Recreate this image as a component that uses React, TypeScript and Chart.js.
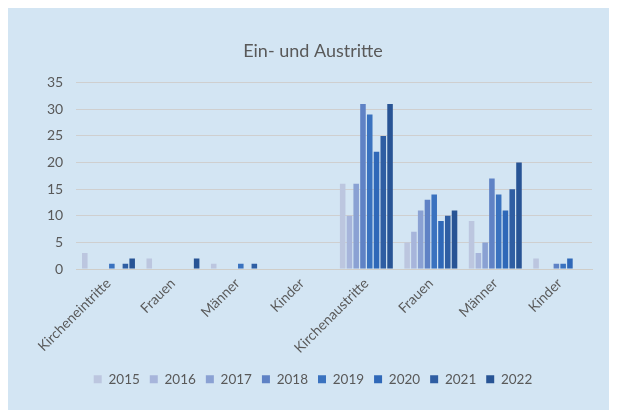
import React, { useEffect, useRef } from "react";
import { Chart, registerables } from "chart.js";

Chart.register(...registerables);

const categories = [
  "Kircheneintritte",
  "Frauen",
  "Männer",
  "Kinder",
  "Kirchenaustritte",
  "Frauen",
  "Männer",
  "Kinder",
];

const years = ["2015", "2016", "2017", "2018", "2019", "2020", "2021", "2022"];

const v2015 = [3, 2, 1, 0, 16, 5, 9, 2];
const v2016 = [0, 0, 0, 0, 10, 7, 3, 0];
const v2017 = [0, 0, 0, 0, 16, 11, 5, 0];
const v2018 = [0, 0, 0, 0, 31, 13, 17, 1];
const v2019 = [1, 0, 1, 0, 29, 14, 14, 1];
const v2020 = [0, 0, 0, 0, 22, 9, 11, 2];
const v2021 = [1, 0, 1, 0, 25, 10, 15, 0];
const v2022 = [2, 2, 0, 0, 31, 11, 20, 0];

const seriesValues = [v2015, v2016, v2017, v2018, v2019, v2020, v2021, v2022];

const colors = [
  "#bcc6df",
  "#a7b5db",
  "#8aa1d3",
  "#5f82c5",
  "#3a72bf",
  "#2f68b8",
  "#2f5ea3",
  "#285495",
];

const yTicks = [0, 5, 10, 15, 20, 25, 30, 35];

const FONT = "Lato";
const TEXT = "#595959";

export default function App() {
  const ref = useRef<HTMLCanvasElement | null>(null);

  useEffect(() => {
    if (!ref.current) return;
    const chart = new Chart(ref.current, {
      type: "bar",
      data: {
        labels: categories,
        datasets: years.map((y, i) => ({
          label: y,
          data: seriesValues[i],
          backgroundColor: colors[i],
          borderWidth: 0,
          categoryPercentage: 0.84,
          barPercentage: 0.82,
        })),
      },
      options: {
        animation: false,
        responsive: true,
        maintainAspectRatio: false,
        layout: { padding: { left: 26, right: 25, top: 0, bottom: 14 } },
        plugins: {
          title: {
            display: true,
            text: "Ein- und Austritte",
            color: TEXT,
            font: { family: FONT, size: 18, weight: "normal" },
            padding: { top: 32, bottom: 21 },
          },
          legend: {
            position: "bottom",
            labels: {
              color: TEXT,
              font: { family: FONT, size: 13.5 },
              boxWidth: 8,
              boxHeight: 8,
              padding: 10,
            },
          },
          tooltip: { enabled: false },
        },
        scales: {
          x: {
            grid: { display: false, drawTicks: false },
            border: { display: true, color: "#cfcdc8", width: 1 },
            ticks: {
              color: TEXT,
              font: { family: FONT, size: 14 },
              maxRotation: 45,
              minRotation: 45,
              padding: 6,
              autoSkip: false,
            },
          },
          y: {
            min: 0,
            max: 35,
            grid: { color: "#cfcfcf", lineWidth: 1, drawTicks: false },
            border: { display: false },
            afterBuildTicks: (axis: any) => {
              axis.ticks = yTicks.map((v) => ({ value: v }));
            },
            ticks: {
              color: TEXT,
              font: { family: FONT, size: 14 },
              padding: 13,
            },
          },
        },
      },
    });
    return () => chart.destroy();
  }, []);

  return (
    <div style={{ width: 609, height: 402, background: "#d3e5f3" }}>
      <canvas ref={ref} />
    </div>
  );
}
